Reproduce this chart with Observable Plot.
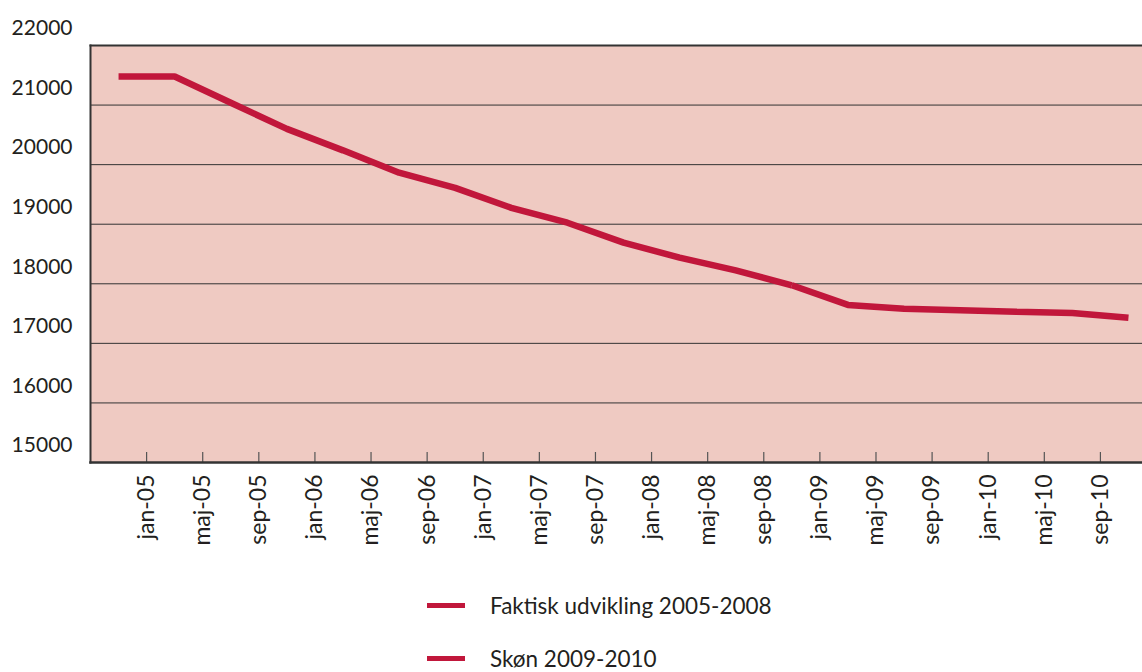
<!DOCTYPE html>
<html><head><meta charset="utf-8">
<script src="https://cdn.jsdelivr.net/npm/d3@7"></script>
<script src="https://cdn.jsdelivr.net/npm/@observablehq/plot@0.6"></script>
<style>
body{margin:0;background:#fff;font-family:Lato, "Open Sans", sans-serif;}
#chart{position:relative;width:1142px;height:672px;overflow:hidden}
.legend{position:absolute;left:427px;height:30px;display:flex;align-items:center;font-size:22.5px;color:#231f20;white-space:nowrap}
.sw{width:38px;height:5px;background:#c1173b;margin-right:25px}
</style></head><body>
<div id="chart"></div>
<script>
// months counted from jan-05 (0 = jan-05)
const faktiskMonths = [-2,2,6,10,14,18,22,26,30,34,38,42,46];
const faktiskValues = [21480,21480,21040,20600,20240,19865,19610,19275,19025,18690,18440,18225,17975];
const skoenMonths = [46,50,54,58,62,66,70];
const skoenValues = [17975,17645,17580,17555,17530,17510,17430];
const tickMonths = [0,4,8,12,16,20,24,28,32,36,40,44,48,52,56,60,64,68];
const tickLabels = ["jan-05","maj-05","sep-05","jan-06","maj-06","sep-06","jan-07","maj-07","sep-07","jan-08","maj-08","sep-08","jan-09","maj-09","sep-09","jan-10","maj-10","sep-10"];
const yTicks = [15000,16000,17000,18000,19000,20000,21000,22000];
const seriesNames = ["Faktisk udvikling 2005-2008","Skøn 2009-2010"];

const faktisk = faktiskMonths.map((m,i)=>({m, v: faktiskValues[i]}));
const skoen = skoenMonths.map((m,i)=>({m, v: skoenValues[i]}));
const red = "#c1173b";
const dark = "#333333";

const chart = Plot.plot({
  width: 1142, height: 560,
  marginTop: 45, marginBottom: 98, marginLeft: 90, marginRight: 0,
  style: {fontFamily: "Lato, 'Open Sans', sans-serif", fontSize: "21px", color: "#231f20", background: "transparent"},
  x: {type: "linear", domain: [-4, 71], label: null},
  y: {domain: [15000, 22000], label: null},
  marks: [
    Plot.frame({fill: "#efcac2", stroke: null}),
    Plot.ruleY(yTicks.slice(1, -1), {stroke: dark, strokeWidth: 1}),
    Plot.frame({anchor: "top", stroke: dark, strokeWidth: 2}),
    Plot.frame({anchor: "left", stroke: dark, strokeWidth: 2}),
    Plot.tickX(tickMonths, {x: d => d, stroke: "#555", strokeWidth: 1.2, insetTop: 407}),
    Plot.line(faktisk, {x: "m", y: "v", stroke: red, strokeWidth: 6.5, strokeLinecap: "butt", strokeLinejoin: "miter"}),
    Plot.line(skoen, {x: "m", y: "v", stroke: red, strokeWidth: 6.5, strokeLinecap: "butt", strokeLinejoin: "miter"}),
    Plot.frame({anchor: "bottom", stroke: dark, strokeWidth: 2.5}),
    Plot.axisY(yTicks, {tickSize: 0, tickPadding: 18, dy: -17, tickFormat: d3.format("d"), fontSize: 21, label: null}),
    Plot.axisX(tickMonths, {tickSize: 0, tickPadding: 12, tickRotate: -90, fontSize: 23, label: null,
      tickFormat: d => tickLabels[tickMonths.indexOf(d)]})
  ]
});
const root = document.getElementById("chart");
root.appendChild(chart);
seriesNames.forEach((name, i) => {
  const item = document.createElement("div");
  item.className = "legend";
  item.style.top = (590 + i * 53) + "px";
  item.innerHTML = `<span class="sw"></span><span>${name}</span>`;
  root.appendChild(item);
});
</script>
</body></html>
